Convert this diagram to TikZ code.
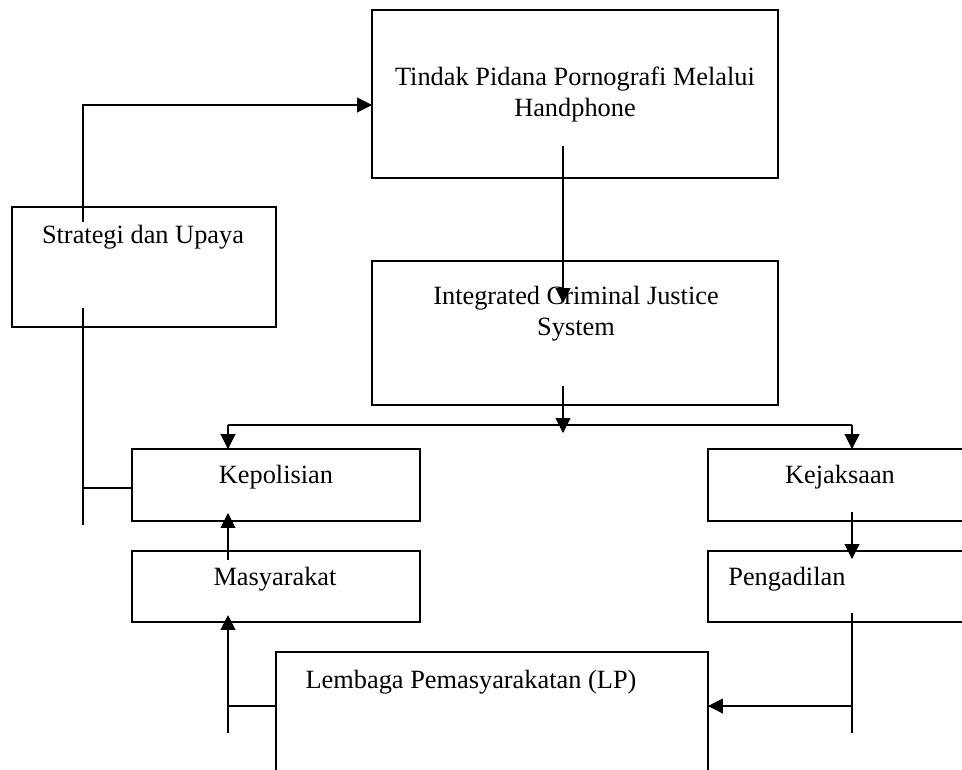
\documentclass[tikz,border=0pt]{standalone}
\usepackage{fontspec}
\setmainfont{Liberation Serif}
\usetikzlibrary{arrows.meta}
\begin{document}
\begin{tikzpicture}[x=0.02cm,y=-0.02cm,
 box/.style={draw,line width=0.75pt,anchor=north west,inner sep=0pt,outer sep=0pt},
 lbl/.style={anchor=base,inner sep=0pt,font=\fontsize{15}{17.5}\selectfont},
 conn/.style={line width=0.6pt},
 arr/.style={conn,-{Triangle[length=8.5pt,width=8.5pt]}}]
\useasboundingbox (0,0) rectangle (962,769);
\clip (0,0) rectangle (962,769);
% boxes
\node[box,minimum width=406*0.02cm,minimum height=168*0.02cm] (tindak) at (372,10) {};
\node[box,minimum width=406*0.02cm,minimum height=144*0.02cm] (icjs) at (372,261) {};
\node[box,minimum width=264*0.02cm,minimum height=120*0.02cm] (strat) at (12,207) {};
\node[box,minimum width=288*0.02cm,minimum height=72*0.02cm] (kep) at (132,449) {};
\node[box,minimum width=288*0.02cm,minimum height=71*0.02cm] (mas) at (132,551) {};
\node[box,minimum width=292*0.02cm,minimum height=72*0.02cm] (kej) at (708,449) {};
\node[box,minimum width=292*0.02cm,minimum height=71*0.02cm] (peng) at (708,551) {};
\node[box,minimum width=432*0.02cm,minimum height=160*0.02cm] (lp) at (276,652) {};
% texts
\node[lbl,align=center] (tindakT) at (575,116) {Tindak Pidana Pornografi Melalui\\Handphone};
\node[lbl,align=center] (icjsT) at (576,335) {Integrated Criminal Justice\\System};
\node[lbl] (stratT) at (143,243) {Strategi dan Upaya};
\node[lbl] (kepT) at (276,483) {Kepolisian};
\node[lbl] (masT) at (275,585) {Masyarakat};
\node[lbl] (kejT) at (840,483) {Kejaksaan};
\node[lbl,anchor=base west] (pengT) at (728,585) {Pengadilan};
\node[lbl] (lpT) at (471,688) {Lembaga Pemasyarakatan (LP)};
% free ends
\coordinate (s1) at (83,222);
\coordinate (s2) at (83,105);
\coordinate (t1) at (563,146);
\coordinate (t2) at (563,303);
\coordinate (c1) at (563,386);
\coordinate (c2) at (563,433);
\coordinate (bl) at (228,425);
\coordinate (br) at (852,425);
\coordinate (k1) at (852,512);
\coordinate (k2) at (852,559);
\coordinate (m1) at (228,560);
\coordinate (m2) at (228,513);
\coordinate (p1) at (852,613);
\coordinate (p2) at (852,733);
\coordinate (p3) at (852,706);
\coordinate (l1) at (228,733);
\coordinate (l2) at (228,615);
\coordinate (l3) at (228,706);
\coordinate (v1) at (83,308);
\coordinate (v2) at (83,525);
\coordinate (v3) at (83,488);
% connectors
\draw[arr] (s1) -- (s2) -- (tindak.west |- s2);
\draw[arr] (t1) -- (t2);
\draw[arr] (c1) -- (c2);
\draw[conn] (bl) -- (br);
\draw[arr] (bl) -- (bl |- kep.north);
\draw[arr] (br) -- (br |- kej.north);
\draw[arr] (k1) -- (k2);
\draw[arr] (m1) -- (m2);
\draw[conn] (p1) -- (p2);
\draw[arr] (p3) -- (p3 -| lp.east);
\draw[arr] (l1) -- (l2);
\draw[conn] (l3) -- (l3 -| lp.west);
\draw[conn] (v1) -- (v2);
\draw[conn] (v3) -- (v3 -| kep.west);
\end{tikzpicture}
\end{document}
